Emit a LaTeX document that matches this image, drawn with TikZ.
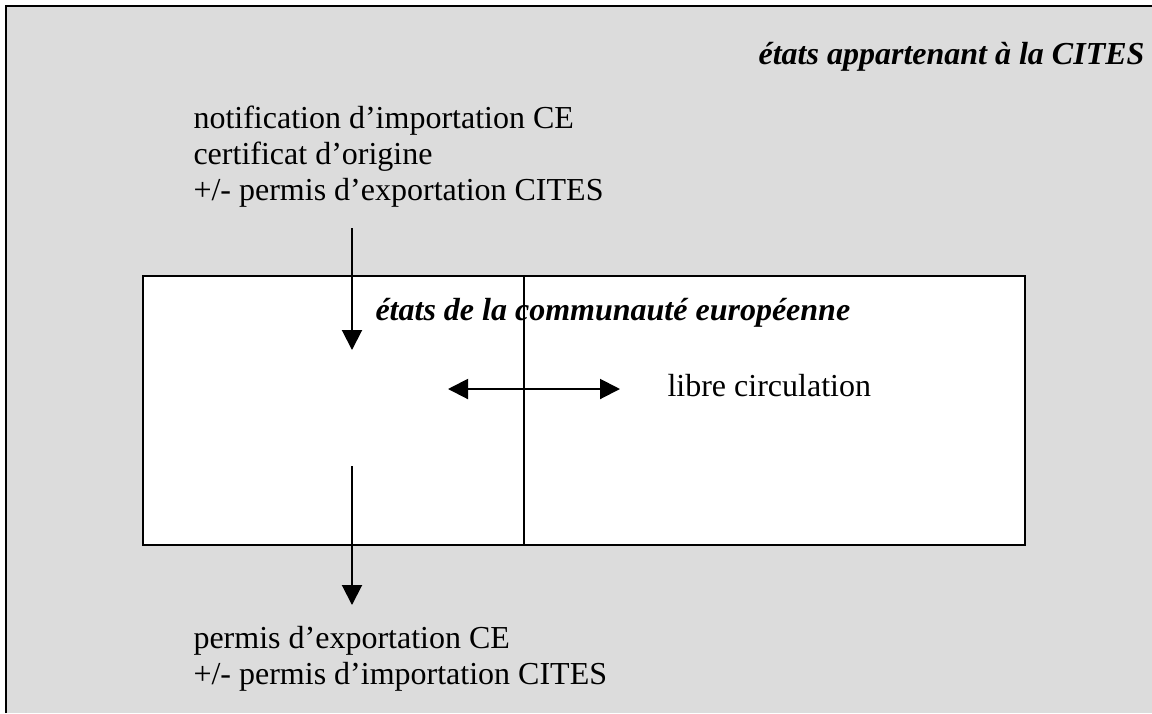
\documentclass[tikz,border=0pt]{standalone}
\usepackage{fontspec}
\setmainfont{Liberation Serif}
\usetikzlibrary{arrows.meta,positioning}
\definecolor{bg}{gray}{0.863}

\begin{document}
\begin{tikzpicture}[x=0.375pt,y=-0.375pt,
    txt/.style={inner sep=0pt,anchor=base west,align=left,
      font=\fontsize{12}{13.5}\selectfont},
    ttl/.style={txt,font=\fontsize{12}{13.5}\selectfont\bfseries\itshape},
    flow/.style={line width=0.75pt,-{Triangle[width=7.5pt,length=7.5pt]}},
    both/.style={line width=0.75pt,{Triangle[width=7.5pt,length=7.5pt]}-{Triangle[width=7.5pt,length=7.5pt]}}]
 \useasboundingbox (0,0) rectangle (1152,713);
 \fill[bg] (6,6) rectangle (1152,713);
 \draw[line width=1pt] (6,713) -- (6,6) -- (1152,6);
 % zone CE
 \node[draw,fill=white,line width=0.75pt,inner sep=0pt,anchor=north west,
   minimum width=330.75pt,minimum height=100.9pt] (eu) at (142,275) {};
 \coordinate (split-t) at (524,275);
 \coordinate (split-b) at (524,544);
 \draw[line width=0.75pt] (split-t) -- (split-b);
 % textes
 \node[ttl,anchor=base east] (cites) at (1145,64) {états appartenant à la CITES};
 \node[ttl] (ce) at (375,320) {états de la communauté européenne};
 \node[txt] (entree) at (193,200)
  {notification d’importation CE\\certificat d’origine\\+/- permis d’exportation CITES};
 \node[txt] (libre) at (667,396) {libre circulation};
 \node[txt] (sortie) at (193,684)
  {permis d’exportation CE\\+/- permis d’importation CITES};
 % fleches
 \coordinate (in-a) at (352,228);
 \coordinate (in-b) at (352,350);
 \coordinate (out-a) at (352,466);
 \coordinate (out-b) at (352,605);
 \coordinate (lc-l) at (448,389);
 \coordinate (lc-r) at (620,389);
 \draw[flow] (in-a) -- (in-b);
 \draw[flow] (out-a) -- (out-b);
 \draw[both] (lc-l) -- (lc-r);
\end{tikzpicture}
\end{document}
